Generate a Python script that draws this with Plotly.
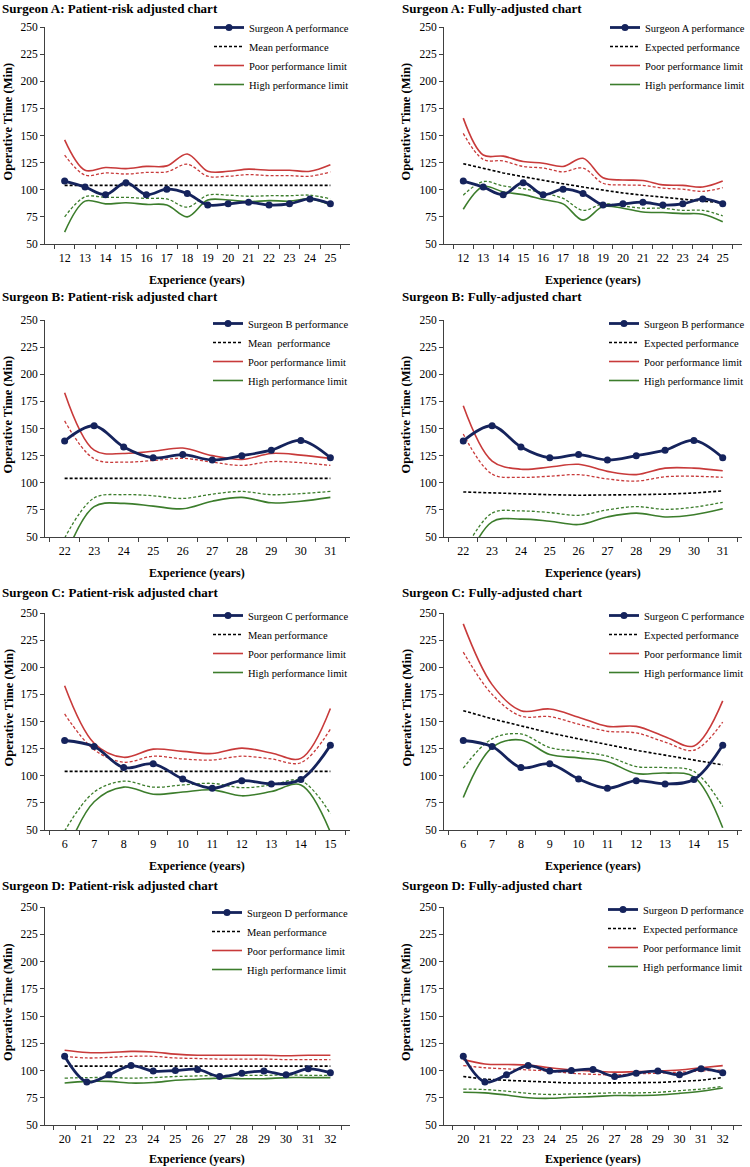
import plotly.graph_objects as go

# ---------------- data ----------------
years_A = ["12", "13", "14", "15", "16", "17", "18", "19", "20", "21", "22", "23", "24", "25"]
years_B = ["22", "23", "24", "25", "26", "27", "28", "29", "30", "31"]
years_C = ["6", "7", "8", "9", "10", "11", "12", "13", "14", "15"]
years_D = ["20", "21", "22", "23", "24", "25", "26", "27", "28", "29", "30", "31", "32"]

A_perf = [108, 102.5, 95.5, 106.5, 95.5, 100.5, 96.5, 86, 87, 88.5, 86, 87, 91.5, 87]
A_pr_mean = [104, 104, 104, 104, 104, 104, 104, 104, 104, 104, 104, 104, 104, 104]
A_pr_poor = [146, 118, 120.5, 119.5, 121.5, 122, 133, 117, 117, 119, 118, 118, 117, 123]
A_pr_poor95 = [132, 113.5, 115.5, 114.5, 116, 116.5, 123.5, 112.5, 112.5, 114, 113, 113, 112.5, 116.5]
A_pr_high95 = [75, 93.5, 93, 93, 92, 91.5, 84, 95, 95, 94, 94.5, 94.5, 95, 91.5]
A_pr_high = [61, 89.5, 87, 88, 86.5, 86, 75, 90.5, 90.5, 89, 90, 89.5, 91.5, 86]
A_fa_exp = [124, 119.5, 115.5, 112, 108.5, 105.5, 102.5, 99.5, 97, 95, 93, 91, 89.5, 88]
A_fa_poor = [166, 132, 131, 126, 124.5, 121.5, 129, 111, 109, 108.5, 104.5, 104, 102.5, 108]
A_fa_poor95 = [152, 128, 126.5, 121.5, 120, 116.5, 120, 106, 104.5, 104, 101.5, 100.5, 98.5, 102]
A_fa_high95 = [95, 107.5, 103.5, 101, 97, 92, 81, 87, 85, 83, 83, 81, 81, 76]
A_fa_high = [82, 103, 98, 95.5, 91, 87, 72, 84.5, 83, 79.5, 79, 78, 77.5, 70.5]

B_perf = [138.5, 152.5, 133, 123, 126, 121, 125, 130, 139, 123]
B_pr_mean = [104, 104, 104, 104, 104, 104, 104, 104, 104, 104]
B_pr_poor = [183, 130, 127, 129, 132, 125, 121.5, 127, 125.5, 122.5]
B_pr_poor95 = [157, 122, 119, 120.5, 122.5, 119, 116, 119.5, 118.5, 116]
B_pr_high95 = [49, 86, 89, 88, 85.5, 89.5, 92, 89, 90, 92]
B_pr_high = [30, 78, 81, 78.5, 76, 83, 86.5, 81.5, 83, 86.5]
B_fa_exp = [91.5, 90.5, 89.5, 89, 88.5, 88.5, 89, 89.5, 90.5, 92.5]
B_fa_poor = [171, 120, 112.5, 114.5, 117, 110.5, 107.5, 113.5, 113.5, 111]
B_fa_poor95 = [145, 108, 105, 106, 107.5, 103.5, 101.5, 105.5, 106, 105]
B_fa_high95 = [35, 72, 74, 72.5, 70, 75, 78, 75.5, 77.5, 82]
B_fa_high = [20, 64, 66.5, 64.5, 61.5, 68.5, 72, 68.5, 70.5, 76]

C_perf = [132.5, 127, 107.5, 111, 97, 88.5, 95.5, 92.5, 96.5, 128]
C_pr_mean = [104, 104, 104, 104, 104, 104, 104, 104, 104, 104]
C_pr_poor = [183, 130, 117, 124.5, 122.5, 120.5, 125.5, 121, 116, 162]
C_pr_poor95 = [157, 124, 112.5, 118, 115.5, 114.5, 118, 115.5, 112, 143]
C_pr_high95 = [49, 85, 95, 89.5, 91.5, 93, 89, 91.5, 95.5, 65]
C_pr_high = [25, 76, 89.5, 83, 85, 87, 81.5, 85.5, 91.5, 48]
C_fa_exp = [160, 152.5, 146, 139.5, 134, 128.5, 123.5, 119, 114.5, 110]
C_fa_poor = [240, 184, 160, 161.5, 154, 145.5, 145.5, 136, 127.5, 169]
C_fa_poor95 = [214, 175, 155, 154.5, 147.5, 141, 139.5, 131, 123.5, 149.5]
C_fa_high95 = [107, 134, 138.5, 126, 122.5, 118, 108.5, 107.5, 104, 71.5]
C_fa_high = [80, 126, 133, 119.5, 116.5, 113, 102, 102.5, 99, 52]

D_perf = [113, 89.5, 96, 104.5, 99.5, 100, 101, 94.5, 97.5, 99.5, 96, 101.5, 98]
D_pr_mean = [104, 104, 104, 104, 104, 104, 104, 104, 104, 104, 104, 104, 104]
D_pr_poor = [118.5, 116.5, 116.5, 117.5, 117, 115, 114, 114, 114, 114, 113.5, 114, 114]
D_pr_poor95 = [113, 111.5, 112, 113, 113, 111.5, 111, 110.5, 110.5, 110.5, 110, 110, 110]
D_pr_high95 = [93, 93.5, 93.5, 93, 93.5, 94.5, 95, 95.5, 95.5, 95.5, 96, 95.5, 95.5]
D_pr_high = [88.5, 90, 90, 88.5, 89, 91, 92, 93, 92.5, 92.5, 93.5, 93.5, 93.5]
D_fa_exp = [94.5, 92, 91, 90, 89, 88.5, 88.5, 88.5, 88.5, 89, 90, 91, 93.5]
D_fa_poor = [110, 106, 105.5, 105, 102.5, 100.5, 99.5, 98.5, 99, 99.5, 100.5, 102.5, 104.5]
D_fa_poor95 = [104.5, 102.5, 101.5, 100.5, 99.5, 97.5, 96.5, 96, 97, 97.5, 98.5, 99.5, 100.5]
D_fa_high95 = [83, 82.5, 81, 79, 78, 78.5, 79, 79.5, 79.5, 80, 81.5, 83, 85.5]
D_fa_high = [80, 79.5, 77.5, 75, 74.5, 75.5, 76, 77, 77, 77.5, 79, 81, 84]

y_ticks = [50, 75, 100, 125, 150, 175, 200, 225, 250]

titles = [
    "Surgeon A: Patient-risk adjusted chart", "Surgeon A: Fully-adjusted chart",
    "Surgeon B: Patient-risk adjusted chart", "Surgeon B: Fully-adjusted chart",
    "Surgeon C: Patient-risk adjusted chart", "Surgeon C: Fully-adjusted chart",
    "Surgeon D: Patient-risk adjusted chart", "Surgeon D: Fully-adjusted chart",
]

panels = [
    ("A", years_A, A_perf, "Mean performance", A_pr_mean, A_pr_poor, A_pr_poor95, A_pr_high95, A_pr_high),
    ("A", years_A, A_perf, "Expected performance", A_fa_exp, A_fa_poor, A_fa_poor95, A_fa_high95, A_fa_high),
    ("B", years_B, B_perf, "Mean  performance", B_pr_mean, B_pr_poor, B_pr_poor95, B_pr_high95, B_pr_high),
    ("B", years_B, B_perf, "Expected performance", B_fa_exp, B_fa_poor, B_fa_poor95, B_fa_high95, B_fa_high),
    ("C", years_C, C_perf, "Mean performance", C_pr_mean, C_pr_poor, C_pr_poor95, C_pr_high95, C_pr_high),
    ("C", years_C, C_perf, "Expected performance", C_fa_exp, C_fa_poor, C_fa_poor95, C_fa_high95, C_fa_high),
    ("D", years_D, D_perf, "Mean performance", D_pr_mean, D_pr_poor, D_pr_poor95, D_pr_high95, D_pr_high),
    ("D", years_D, D_perf, "Expected performance", D_fa_exp, D_fa_poor, D_fa_poor95, D_fa_high95, D_fa_high),
]

# ---------------- layout geometry (pixels) ----------------
W, H = 750, 1167
row_top = [27, 320, 613, 907]
row_bot = [244, 537, 830, 1125]
col_left = [45, 444]
col_right = [350, 742]
title_y = [8, 297, 592, 885]
title_x = [0, 400]
ytitle_x = [8, 406]
legend_right = [354, 750]
legend_row = [[27, 323, 615, 912], [27, 323, 615, 909]]
xtitle_y = [280, 573, 866, 1159]

def fx(p):
    return p / W

def fy(p):
    return 1 - p / H

NAVY = "#15235C"
RED = "#C83A3A"
GREEN = "#3C7D2C"
FONT = "Liberation Serif"

fig = go.Figure()
annotations = []
layout_axes = {}

for i, (sg, yrs, perf, mname, mean, poor, poor95, high95, high) in enumerate(panels):
    r, c = divmod(i, 2)
    n = "" if i == 0 else str(i + 1)
    xa, ya = "x" + n, "y" + n
    lg = "legend" + n
    common = dict(x=yrs, xaxis=xa, yaxis=ya, mode="lines", legend=lg)
    fig.add_trace(go.Scatter(y=mean, name=mname, legendrank=2,
                             line=dict(color="black", width=1.6, dash="3px,2px"), **common))
    fig.add_trace(go.Scatter(y=poor95, showlegend=False, hoverinfo="skip",
                             line=dict(color=RED, width=1.3, dash="3px,2px", shape="spline", smoothing=1), **common))
    fig.add_trace(go.Scatter(y=poor, name="Poor performance limit", legendrank=3,
                             line=dict(color=RED, width=1.6, shape="spline", smoothing=1), **common))
    fig.add_trace(go.Scatter(y=high95, showlegend=False, hoverinfo="skip",
                             line=dict(color=GREEN, width=1.3, dash="3px,2px", shape="spline", smoothing=1), **common))
    fig.add_trace(go.Scatter(y=high, name="High performance limit", legendrank=4,
                             line=dict(color=GREEN, width=1.6, shape="spline", smoothing=1), **common))
    fig.add_trace(go.Scatter(x=yrs, y=perf, xaxis=xa, yaxis=ya, mode="lines+markers", legend=lg,
                             name="Surgeon %s performance" % sg, legendrank=1,
                             line=dict(color=NAVY, width=2.8, shape="spline", smoothing=1),
                             marker=dict(color=NAVY, size=7, symbol="circle")))

    layout_axes["xaxis" + n] = dict(
        domain=[fx(col_left[c]), fx(col_right[c])], anchor=ya, type="category",
        tickson="boundaries", ticks="outside", ticklen=4, tickcolor="#404040",
        showline=True, linecolor="#404040", linewidth=1, showgrid=False, zeroline=False,
        tickangle=0, automargin=False, ticklabelstandoff=3,
        tickfont=dict(family=FONT, size=12, color="black"), fixedrange=True)
    layout_axes["yaxis" + n] = dict(
        domain=[fy(row_bot[r]), fy(row_top[r])], anchor=xa, range=[50, 250],
        tickvals=y_ticks, ticks="outside", ticklen=4, tickcolor="#404040",
        showline=True, linecolor="#404040", linewidth=1, showgrid=False, zeroline=False,
        automargin=False,
        tickfont=dict(family=FONT, size=11.5, color="black"), fixedrange=True)
    layout_axes[lg] = dict(
        x=fx(legend_right[c]), xanchor="right", y=fy(legend_row[c][r] - 14), yanchor="top",
        bgcolor="rgba(0,0,0,0)", borderwidth=0, itemwidth=30,
        font=dict(family=FONT, size=10.5, color="black"), tracegroupgap=0)

    annotations.append(dict(text="<b>%s</b>" % titles[i], x=fx(title_x[c]), y=fy(title_y[r]),
                            xref="paper", yref="paper", xanchor="left", yanchor="middle",
                            showarrow=False, font=dict(family=FONT, size=13, color="black")))
    annotations.append(dict(text="<b>Operative Time (Min)</b>", x=fx(ytitle_x[c]),
                            y=fy((row_top[r] + row_bot[r]) / 2 - 14),
                            xref="paper", yref="paper", xanchor="center", yanchor="middle",
                            textangle=-90, showarrow=False,
                            font=dict(family=FONT, size=12.5, color="black")))
    annotations.append(dict(text="<b>Experience (years)</b>", x=fx((col_left[c] + col_right[c]) / 2),
                            y=fy(xtitle_y[r]), xref="paper", yref="paper",
                            xanchor="center", yanchor="middle", showarrow=False,
                            font=dict(family=FONT, size=12, color="black")))

fig.update_layout(
    width=W, height=H, margin=dict(l=0, r=0, t=0, b=0, autoexpand=False),
    paper_bgcolor="white", plot_bgcolor="white", template="none",
    annotations=annotations, **layout_axes)

fig.write_html("out.html", config={"displayModeBar": False},
               post_script="document.body.style.margin='0';document.body.style.overflow='hidden';")
